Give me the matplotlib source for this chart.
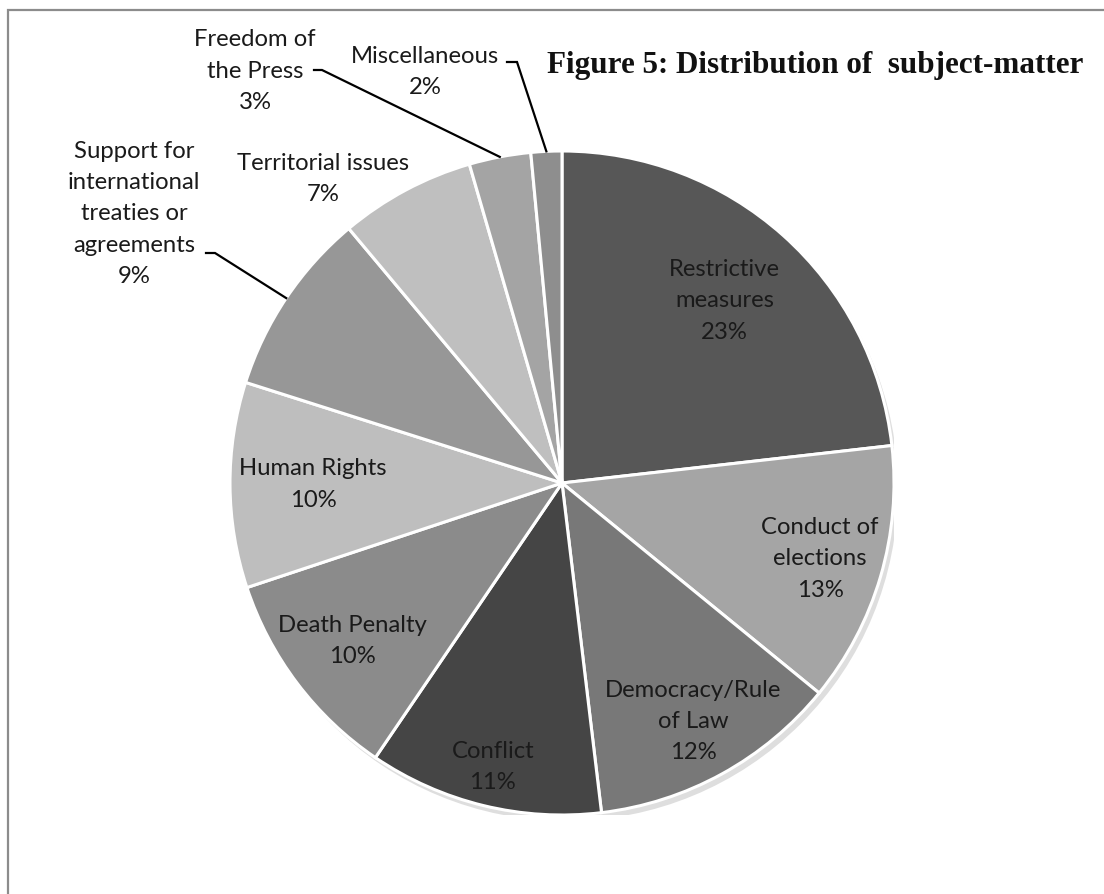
import numpy as np
import matplotlib
matplotlib.use("Agg")
import matplotlib.pyplot as plt
import matplotlib.patches as mpatches

# -- data (clockwise from 12 o'clock) --
subjects = ["Restrictive\nmeasures", "Conduct of\nelections", "Democracy/Rule\nof Law",
            "Conflict", "Death Penalty", "Human Rights",
            "Support for\ninternational\ntreaties or\nagreements",
            "Territorial issues", "Freedom of\nthe Press", "Miscellaneous"]
shares = [23.2, 12.7, 12.2, 11.4, 10.4, 10.0, 9.0, 6.6, 3.0, 1.5]
shown_pct = [23, 13, 12, 11, 10, 10, 9, 7, 3, 2]

greys = ["#575757", "#a5a5a5", "#787878", "#454545", "#8b8b8b",
         "#bebebe", "#979797", "#bfbfbf", "#a4a4a4", "#8e8e8e"]

# label radius (fraction of pie radius) for in-pie labels, None for outside ones
label_r = [0.735, 0.81, 0.82, 0.88, 0.79, 0.75, None, None, None, None]

W, H = 1104, 894
fig = plt.figure(figsize=(W / 100, H / 100), dpi=100)
fig.patch.set_facecolor("white")

# frame (runs off the right and bottom edges like the original)
fig.patches.append(mpatches.Rectangle((8 / W, -0.05), 1.2, (H - 10) / H + 0.05,
                                      transform=fig.transFigure, fill=False,
                                      edgecolor="#8c8c8c", linewidth=1.6))

cx, cy, rad = 562, 483, 332
ax = fig.add_axes([(cx - rad) / W, (H - cy - rad) / H, 2 * rad / W, 2 * rad / H])
ax.axis("off")

# faint shadow ring
shadow = mpatches.Circle((0.012, -0.018), 1.0, facecolor="#dedede", edgecolor="none", zorder=0)
ax.add_patch(shadow)

wedges, _ = ax.pie(shares, colors=greys, startangle=90, counterclock=False, radius=1.0,
                   wedgeprops=dict(edgecolor="white", linewidth=2.2), normalize=True)
ax.set_xlim(-1, 1)
ax.set_ylim(-1, 1)
ax.set_aspect("equal")

lbl_font = dict(family=["Lato", "DejaVu Sans"], fontsize=17.2, color="#1a1a1a",
                ha="center", va="center", linespacing=1.6)

for w, name, pct, lr in zip(wedges, subjects, shown_pct, label_r):
    mid = np.deg2rad((w.theta1 + w.theta2) / 2)
    if lr is not None:
        ax.text(lr * np.cos(mid), lr * np.sin(mid), f"{name}\n{pct}%", **lbl_font)


def px(x, y):
    # pixel -> data coords of the pie axes
    return ((x - cx) / rad, (cy - y) / rad)


def edge(w):
    mid = np.deg2rad((w.theta1 + w.theta2) / 2)
    return np.cos(mid), np.sin(mid)


# Territorial issues: just outside, no leader
tx, ty = px(323, 179)
ax.text(tx, ty, f"{subjects[7]}\n{shown_pct[7]}%", clip_on=False, **lbl_font)

# outside labels with leader lines: (text centre, line start, elbow)
outside = {
    6: ((134, 214), (206, 253), (215, 253)),
    8: ((255, 71), (314, 70), (322, 70)),
    9: ((425, 72), (507, 62), (517, 62)),
}
for i, (tc, ls, el) in outside.items():
    ax.text(*px(*tc), f"{subjects[i]}\n{shown_pct[i]}%", clip_on=False, **lbl_font)
    ex, ey = edge(wedges[i])
    p0, p1 = px(*ls), px(*el)
    ax.plot([p0[0], p1[0], ex], [p0[1], p1[1], ey], color="black", lw=1.6,
            clip_on=False, solid_joinstyle="miter")

fig.text(1083 / W, 1 - 66 / H, "Figure 5: Distribution of  subject-matter",
         family=["Liberation Serif", "DejaVu Serif"], fontweight="bold", fontsize=22.4,
         ha="right", va="center", color="#111111")

fig.savefig("out.png", dpi=100, facecolor="white")
